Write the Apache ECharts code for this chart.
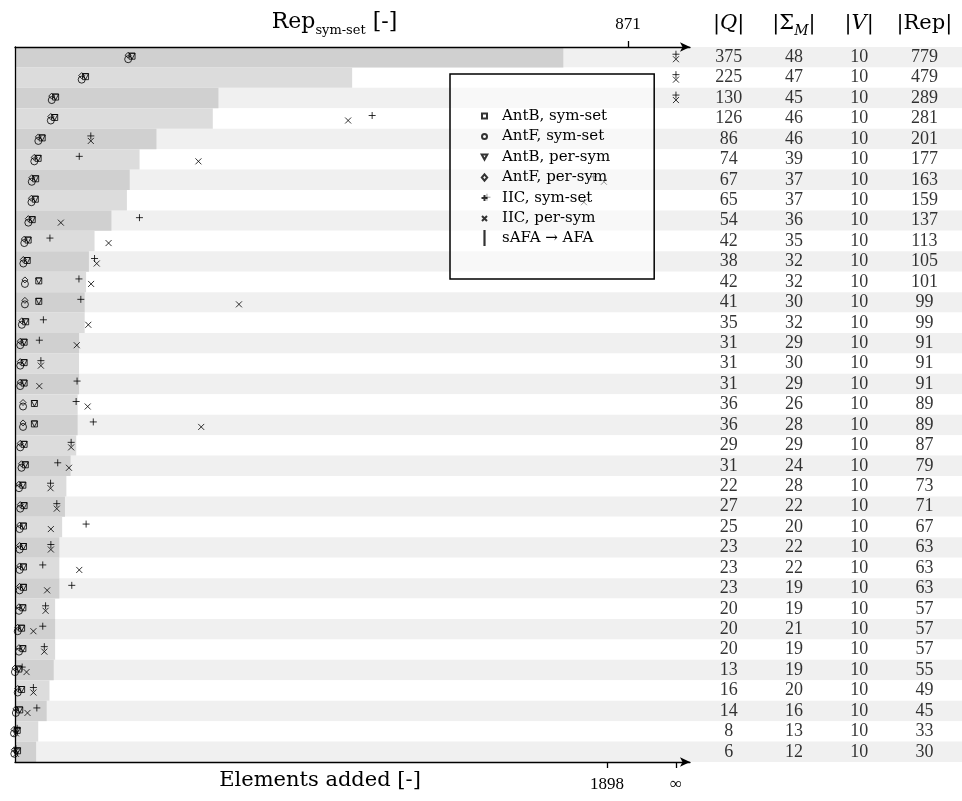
<!DOCTYPE html>
<html>
<head>
<meta charset="utf-8">
<script src="https://cdn.jsdelivr.net/npm/echarts@6/dist/echarts.min.js"></script>
<style>
  html, body { margin: 0; padding: 0; background: #fff; }
  #chart { width: 962px; height: 801px; }
</style>
</head>
<body>
<div id="chart"></div>
<script>
// table columns, one row per instance (sorted by |Rep|)
const qSizes = [375, 225, 130, 126, 86, 74, 67, 65, 54, 42, 38, 42, 41, 35, 31, 31, 31, 36, 36, 29,
  31, 22, 27, 25, 23, 23, 23, 20, 20, 20, 13, 16, 14, 8, 6];
const sigmaSizes = [48, 47, 45, 46, 46, 39, 37, 37, 36, 35, 32, 32, 30, 32, 29, 30, 29, 26, 28, 29,
  24, 28, 22, 20, 22, 22, 19, 19, 21, 19, 19, 20, 16, 13, 12];
const vSizes = [10, 10, 10, 10, 10, 10, 10, 10, 10, 10, 10, 10, 10, 10, 10, 10, 10, 10, 10, 10,
  10, 10, 10, 10, 10, 10, 10, 10, 10, 10, 10, 10, 10, 10, 10];
const repSizes = [779, 479, 289, 281, 201, 177, 163, 159, 137, 113, 105, 101, 99, 99, 91, 91, 91, 89, 89, 87,
  79, 73, 71, 67, 63, 63, 63, 57, 57, 57, 55, 49, 45, 33, 30];

// elements added per method (Infinity = did not finish)
const antBSymSet = [372, 223, 127, 124, 84, 71, 63, 62, 52, 39, 36, 73, 73, 31, 26, 26, 26, 59, 59, 26,
  30, 22, 26, 24, 24, 24, 24, 22, 18, 22, 9, 18, 12, 4, 5];
const antFSymSet = [366, 217, 121, 118, 78, 65, 57, 56, 46, 33, 30, 35, 35, 25, 20, 20, 20, 29, 29, 20,
  24, 16, 20, 18, 18, 18, 18, 16, 12, 16, 3, 12, 6, 0, 1];
const antBPerSym = [372, 223, 127, 124, 84, 71, 63, 62, 52, 39, 36, 73, 73, 31, 26, 26, 26, 59, 59, 26,
  30, 22, 26, 24, 24, 24, 24, 22, 18, 22, 9, 18, 12, 4, 5];
const antFPerSym = [366, 217, 121, 118, 78, 65, 57, 56, 46, 33, 30, 35, 35, 25, 20, 20, 20, 29, 29, 20,
  24, 16, 20, 18, 18, 18, 18, 16, 12, 16, 3, 12, 6, 0, 1];
const iicSymSet = [Infinity, Infinity, Infinity, 1145, 243, 206, 1855, 1513, 399, 112, 255, 205, 211, 91, 78, 83, 199, 196, 251, 180,
  137, 114, 134, 228, 115, 89, 182, 98, 89, 94, 23, 59, 70, 7, 3];
const iicPerSym = [Infinity, Infinity, Infinity, 1068, 243, 588, 1888, 1824, 147, 300, 262, 244, 718, 235, 198, 83, 78, 233, 597, 180,
  173, 114, 134, 115, 115, 206, 103, 98, 59, 94, 37, 59, 40, 3, 3];

const headers = ['{b||}{bi|Q}{b||}', '{b||Σ}{si|M}{b||}', '{b||}{bi|V}{b||}', '{b||Rep|}'];
const repTicks = [871];
const addedTicks = [1898, 2119];   // last one is the "∞" position
const infPos = 2119;

const rows = repSizes.map((v, i) => 'r' + i);
const serif = 'DejaVu Serif';
const numFont = 'Liberation Serif';

// legend icons drawn in a 7x16 box (first two moves fix the box)
const icons = {
  rect: 'path://M0,0M7,16M1,5.5h5v5h-5z',
  circle: 'path://M0,0M7,16M6,8A2.5,2.5,0,1,1,1,8A2.5,2.5,0,1,1,6,8z',
  triDown: 'path://M0,0M7,16M0.7,5.6H6.3L3.5,10.6z',
  diamond: 'path://M0,0M7,16M3.5,4.8L6.2,8L3.5,11.2L0.8,8z',
  plus: 'path://M0,0M7,16M0.5,8H6.5M3.5,5V11',
  cross: 'path://M0,0M7,16M1,5.5L6,10.5M6,5.5L1,10.5',
  bar: 'path://M0,0M7,16M2.4,0h2.2v16h-2.2z'
};

function toPoints (arr)
{
  return arr.map((v, i) => [v === Infinity ? infPos : v, i]);
}

let tableData = [];
[qSizes, sigmaSizes, vSizes, repSizes].forEach((col, c) =>
{
  col.forEach((v, r) =>
  {
    tableData.push([c, r, v]);
  });
});

const hollow = {color: 'rgba(0,0,0,0)', borderColor: '#000', borderWidth: 1};

function markerSeries (name, values, symbol, size, offset, rotate)
{
  return {
    name: name,
    type: 'scatter',
    xAxisIndex: 2,
    yAxisIndex: 1,
    symbol: symbol,
    symbolSize: size,
    symbolOffset: offset,
    symbolRotate: rotate || 0,
    itemStyle: hollow,
    data: toPoints(values),
    silent: true,
    z: 3
  };
}

let chart = echarts.init(document.getElementById('chart'));

let option = {
  animation: false,
  backgroundColor: '#fff',
  grid: [
    {left: 15, right: 0, top: 47, bottom: 39, outerBoundsMode: 'none'},
    {left: 15, right: 272, top: 47, bottom: 39, outerBoundsMode: 'none'},
    {left: 696, right: 5, top: 47, bottom: 39, outerBoundsMode: 'none'}
  ],
  legend: {
    orient: 'vertical',
    left: 450,
    top: 74,
    padding: [33, 44, 33, 30],
    itemWidth: 7,
    itemHeight: 16,
    itemGap: 2.5,
    selectedMode: false,
    symbolRotate: 0,
    borderColor: '#000',
    borderWidth: 1.5,
    borderRadius: 0,
    backgroundColor: 'rgba(255,255,255,0.5)',
    textStyle: {fontFamily: serif, fontSize: 15, color: '#000', padding: [0, 0, 0, 9]},
    data: [
      {name: 'AntB, sym-set', icon: icons.rect},
      {name: 'AntF, sym-set', icon: icons.circle},
      {name: 'AntB, per-sym', icon: icons.triDown},
      {name: 'AntF, per-sym', icon: icons.diamond},
      {name: 'IIC, sym-set', icon: icons.plus},
      {name: 'IIC, per-sym', icon: icons.cross},
      {name: 'sAFA → AFA', icon: icons.bar}
    ]
  },
  xAxis: [
    {gridIndex: 0, type: 'value', show: false, min: 0, max: 1},
    {
      gridIndex: 1,
      type: 'value',
      position: 'top',
      min: 0,
      max: 959,
      z: 5,
      name: '{m|Rep}{s|sym-set}{m| [-]}',
      nameLocation: 'middle',
      nameGap: 10,
      nameMoveOverlap: false,
      nameTextStyle: {
        padding: [0, 36, 0, 0],
        rich: {
          m: {fontFamily: serif, fontSize: 22, color: '#000', lineHeight: 30},
          s: {fontFamily: serif, fontSize: 13, color: '#000', lineHeight: 10, verticalAlign: 'bottom'}
        }
      },
      axisLine: {show: true, symbol: ['none', 'arrow'], symbolSize: [7, 10], lineStyle: {color: '#000', width: 1.3}},
      axisTick: {show: true, length: 6, customValues: repTicks, lineStyle: {color: '#000', width: 1.3}},
      axisLabel: {customValues: repTicks, margin: 14, fontFamily: numFont, fontSize: 17, color: '#000'},
      splitLine: {show: false}
    },
    {
      gridIndex: 1,
      type: 'value',
      position: 'bottom',
      min: 0,
      max: 2164,
      z: 5,
      name: 'Elements added [-]',
      nameLocation: 'middle',
      nameGap: 8,
      nameMoveOverlap: false,
      nameTextStyle: {fontFamily: serif, fontSize: 21, color: '#000', padding: [0, 65, 0, 0]},
      axisLine: {show: true, symbol: ['none', 'arrow'], symbolSize: [7, 10], lineStyle: {color: '#000', width: 1.3}},
      axisTick: {show: true, length: 6, customValues: addedTicks, lineStyle: {color: '#000', width: 1.3}},
      axisLabel: {
        customValues: addedTicks,
        margin: 14,
        fontFamily: numFont,
        fontSize: 17,
        color: '#000',
        formatter: v => (v === infPos ? '∞' : String(v))
      },
      splitLine: {show: false}
    },
    {
      gridIndex: 2,
      type: 'category',
      position: 'top',
      data: headers,
      axisLine: {show: false},
      axisTick: {show: false},
      splitLine: {show: false},
      axisLabel: {
        interval: 0,
        margin: 9,
        rich: {
          b: {fontFamily: serif, fontSize: 21, color: '#000', lineHeight: 28},
          bi: {fontFamily: serif, fontSize: 21, fontStyle: 'italic', color: '#000', lineHeight: 28},
          si: {fontFamily: serif, fontSize: 14, fontStyle: 'italic', color: '#000', lineHeight: 14, verticalAlign: 'bottom'}
        }
      }
    }
  ],
  yAxis: [
    {
      gridIndex: 0,
      type: 'category',
      inverse: true,
      data: rows,
      axisLine: {show: false},
      axisTick: {show: false, interval: 0},
      axisLabel: {show: false, interval: 0},
      splitLine: {show: false},
      splitArea: {show: true, interval: 0, areaStyle: {color: ['#f0f0f0', '#ffffff']}}
    },
    {
      gridIndex: 1,
      type: 'category',
      inverse: true,
      data: rows,
      z: 5,
      axisLine: {show: true, lineStyle: {color: '#000', width: 1.3}},
      axisTick: {show: false},
      axisLabel: {show: false},
      splitLine: {show: false},
      splitArea: {show: false}
    },
    {
      gridIndex: 2,
      type: 'category',
      inverse: true,
      data: rows,
      axisLine: {show: false},
      axisTick: {show: false},
      axisLabel: {show: false},
      splitLine: {show: false},
      splitArea: {show: false}
    }
  ],
  series: [
    {
      name: 'Rep',
      type: 'bar',
      xAxisIndex: 1,
      yAxisIndex: 1,
      barCategoryGap: '0%',
      silent: true,
      itemStyle: {
        color: p => (p.dataIndex % 2 === 0 ? '#d0d0d0' : '#dcdcdc')
      },
      data: repSizes,
      z: 2
    },
    markerSeries('AntB, sym-set', antBSymSet, 'rect', 6, [1, -1]),
    markerSeries('AntF, sym-set', antFSymSet, 'circle', 7, [-1, 2]),
    markerSeries('AntB, per-sym', antBPerSym, 'triangle', 6, [1, -1], 180),
    markerSeries('AntF, per-sym', antFPerSym, 'diamond', 6, [-1, -2]),
    markerSeries('IIC, sym-set', iicSymSet, 'path://M0,5H10M5,0V10', 7, [0, -3]),
    markerSeries('IIC, per-sym', iicPerSym, 'path://M0,0L10,10M10,0L0,10', 6, [0, 2]),
    {
      name: 'sAFA → AFA',
      type: 'scatter',
      xAxisIndex: 2,
      yAxisIndex: 1,
      itemStyle: {color: '#000'},
      data: []
    },
    {
      name: 'table',
      type: 'scatter',
      xAxisIndex: 3,
      yAxisIndex: 2,
      symbolSize: 1,
      silent: true,
      itemStyle: {color: 'rgba(0,0,0,0)'},
      label: {
        show: true,
        position: 'inside',
        fontFamily: numFont,
        fontSize: 18,
        color: '#000',
        formatter: p => String(p.value[2])
      },
      data: tableData
    }
  ]
};

chart.setOption(option);
</script>
</body>
</html>
